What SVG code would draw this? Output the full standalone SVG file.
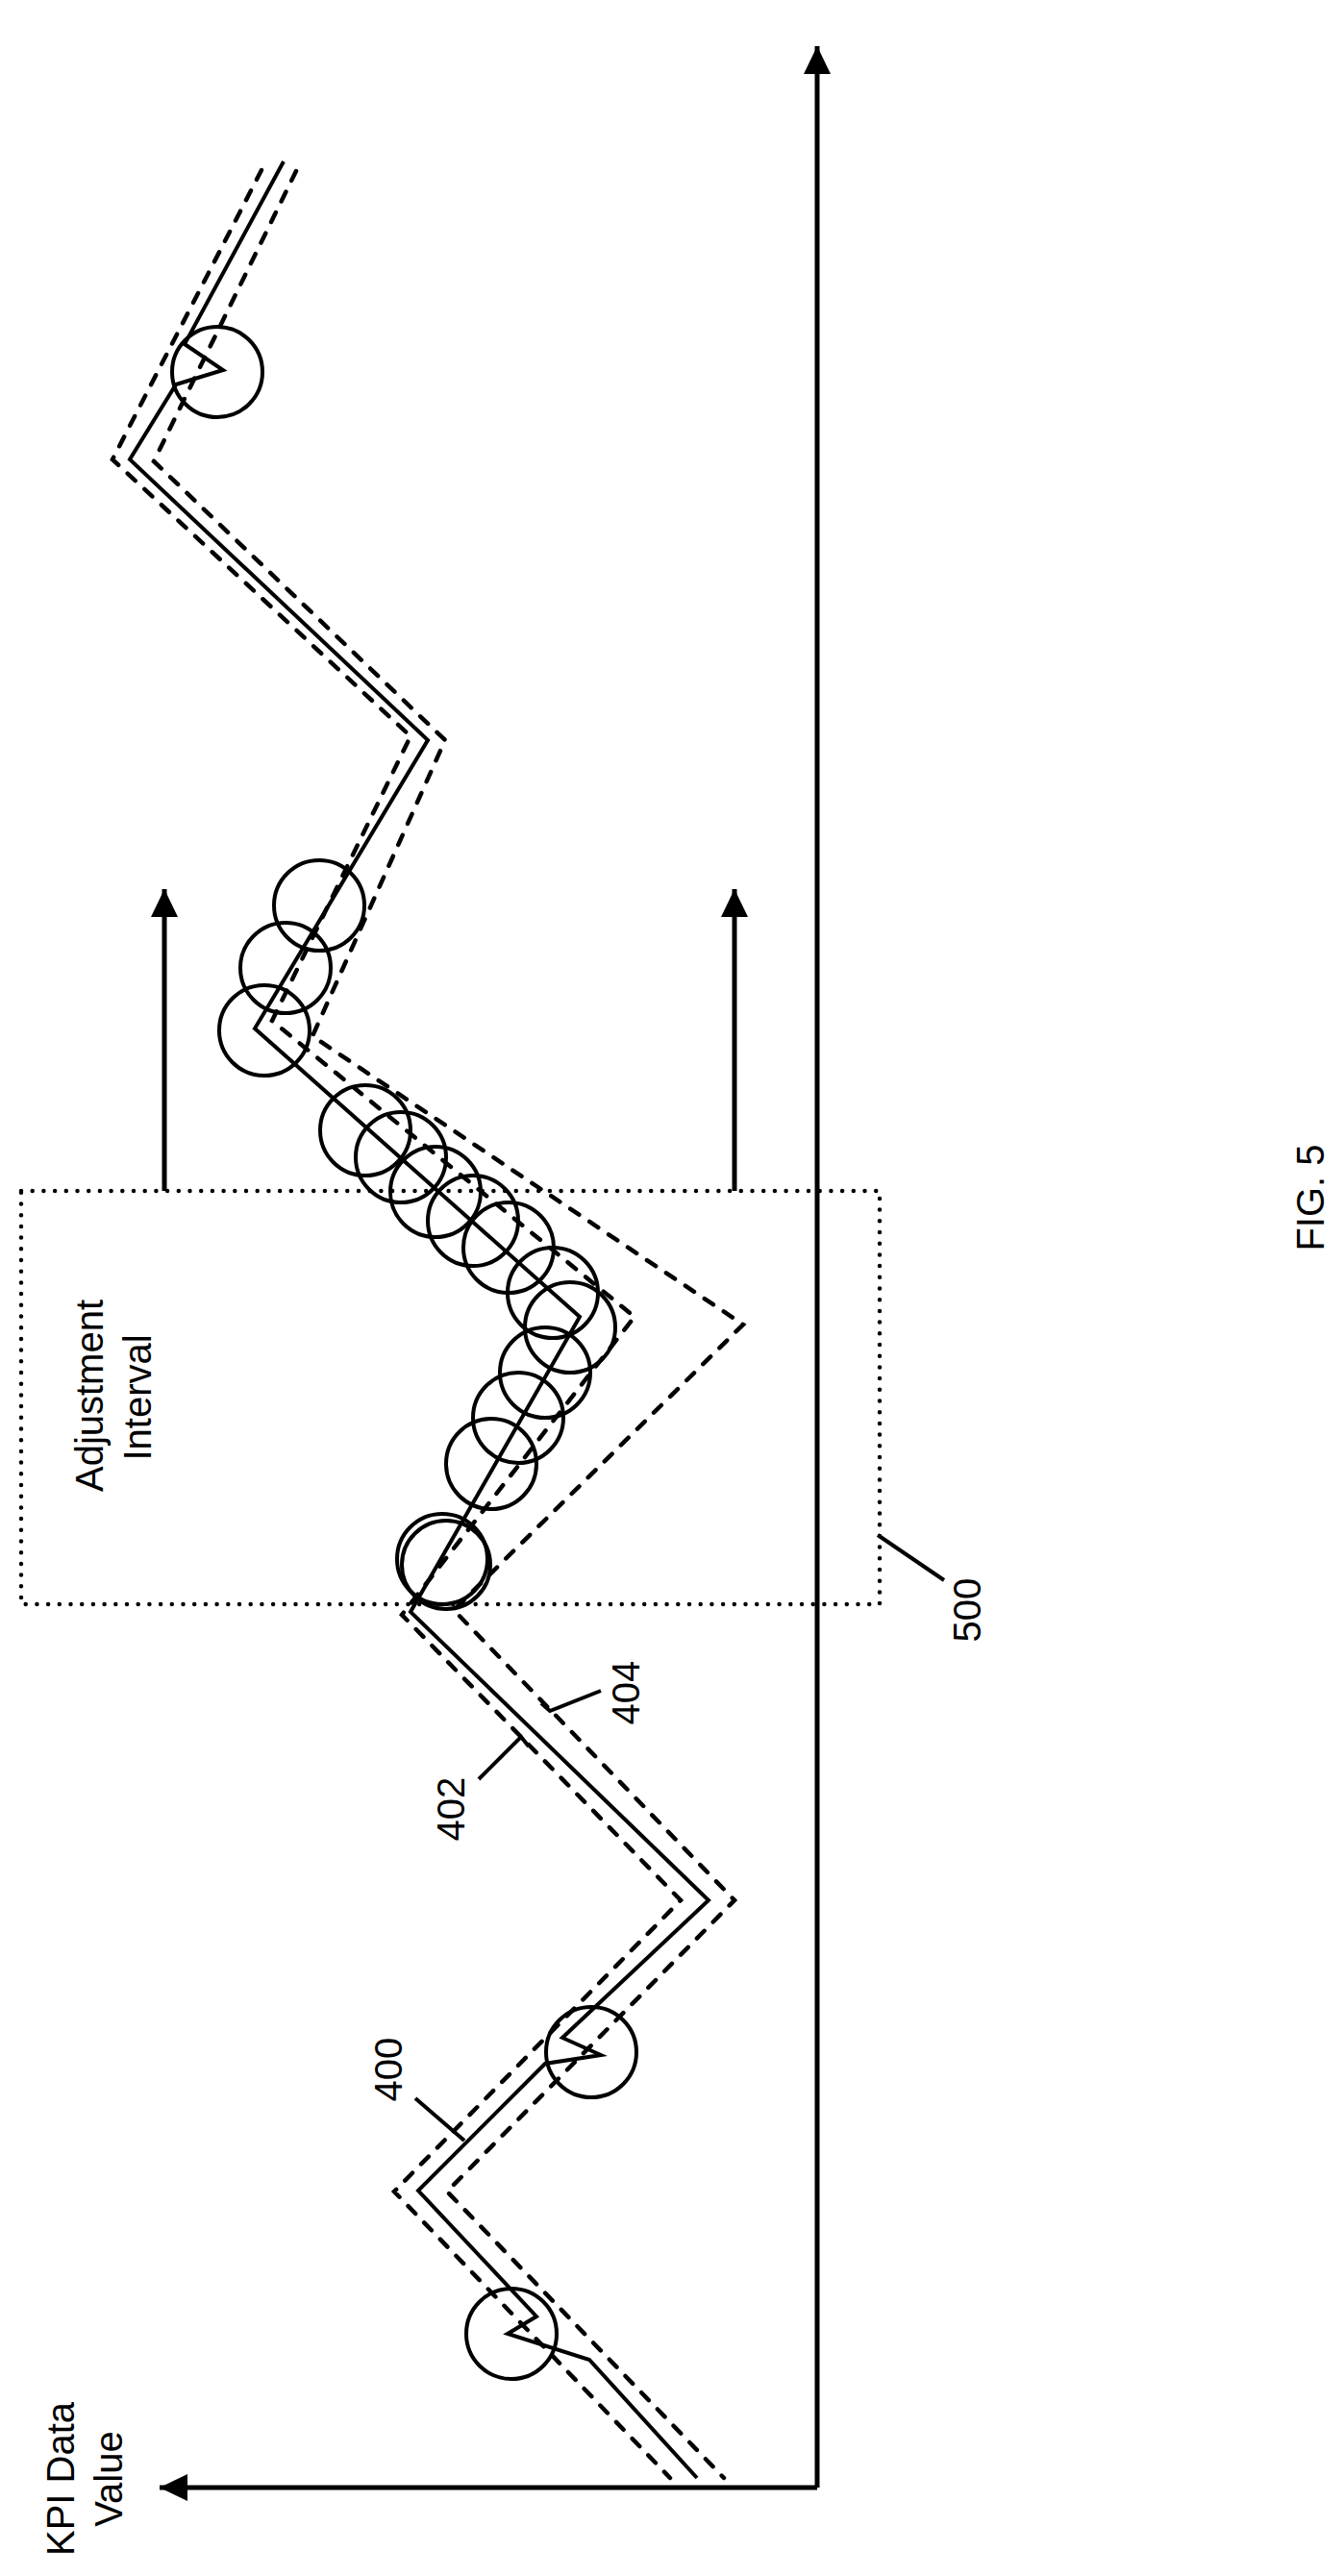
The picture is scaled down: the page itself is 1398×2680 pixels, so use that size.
<svg xmlns="http://www.w3.org/2000/svg" width="1398" height="2680" viewBox="0 0 1398 2680">
<style>
.ax{fill:none;stroke:#000;stroke-width:5}
.sol{fill:none;stroke:#000;stroke-width:4;stroke-linejoin:miter}
.dsh{fill:none;stroke:#000;stroke-width:4.5;stroke-dasharray:11 13;stroke-linecap:round}
.cir{fill:none;stroke:#000;stroke-width:4}
.box{fill:none;stroke:#000;stroke-width:4.5;stroke-dasharray:0 11.7;stroke-linecap:round}
.ld{fill:none;stroke:#000;stroke-width:4}
.t{font-family:"Liberation Sans",Arial,sans-serif;font-size:40px;fill:#000;text-anchor:middle}
</style>
<defs>
<marker id="ah" markerUnits="userSpaceOnUse" markerWidth="30" markerHeight="30" viewBox="0 0 30 30" refX="29" refY="15" orient="auto">
<path d="M0,1 L29,15 L0,29 Z" fill="#000"/>
</marker>
</defs>
<g id="axes">
<path class="ax" d="M850,2588 L850,48" marker-end="url(#ah)"/>
<path class="ax" d="M850,2588 L166,2588" marker-end="url(#ah)"/>
</g>
<g id="adjustment-box">
<rect class="box" x="22" y="1239" width="893" height="430"/>
<path class="ax" d="M171,1239 L171,925" marker-end="url(#ah)"/>
<path class="ax" d="M764,1239 L764,925" marker-end="url(#ah)"/>
<text class="t" transform="translate(107,1452) rotate(-90)" font-size="41">Adjustment</text>
<text class="t" transform="translate(157,1454) rotate(-90)" font-size="41">Interval</text>
</g>
<g id="connectors">
<path id="kpi-400" class="sol" d="M295,168 L192,358 L232,385 L183,400 L135,478 L445,770 L265,1070 L603,1370 L427,1677 L737,1977 L585,2120 L625,2138 L567,2147 L435,2279 L558,2410 L528,2428 L613,2455 L725,2578"/>
<path id="band-402" class="dsh" d="M272,177 L117,478 L427,766 L283,1062 L660,1370 L418,1680 L708,1977 L410,2280 L697,2578"/>
<path id="band-404" class="dsh" d="M308,178 L160,480 L463,770 L325,1078 L773,1378 L472,1675 L764,1977 L465,2280 L753,2578"/>
</g>
<g id="anomalies">
<circle class="cir" cx="226" cy="387" r="47"/>
<circle class="cir" cx="332" cy="942" r="47"/>
<circle class="cir" cx="297" cy="1007" r="47"/>
<circle class="cir" cx="275" cy="1072" r="47"/>
<circle class="cir" cx="380" cy="1176" r="47"/>
<circle class="cir" cx="417" cy="1204" r="47"/>
<circle class="cir" cx="453" cy="1240" r="47"/>
<circle class="cir" cx="492" cy="1270" r="47"/>
<circle class="cir" cx="529" cy="1298" r="47"/>
<circle class="cir" cx="575" cy="1345" r="47"/>
<circle class="cir" cx="593" cy="1381" r="47"/>
<circle class="cir" cx="567" cy="1428" r="47"/>
<circle class="cir" cx="539" cy="1475" r="47"/>
<circle class="cir" cx="511" cy="1523" r="47"/>
<circle class="cir" cx="460" cy="1622" r="47"/>
<circle class="cir" cx="464" cy="1628" r="46"/>
<circle class="cir" cx="615" cy="2135" r="47"/>
<circle class="cir" cx="532" cy="2428" r="47"/>
</g>
<g id="labels">
<text class="t" transform="translate(77,2579) rotate(-90)" font-size="41">KPI Data</text>
<text class="t" transform="translate(127,2579) rotate(-90)" font-size="41">Value</text>
<path class="ld" d="M432,2183 L483,2227"/>
<text class="t" transform="translate(418,2153) rotate(-90)">400</text>
<path class="ld" d="M498,1851 L542,1807 L550,1817"/>
<text class="t" transform="translate(483,1882) rotate(-90)">402</text>
<path class="ld" d="M625,1759 L572,1780 L563,1772"/>
<text class="t" transform="translate(665,1761) rotate(-90)">404</text>
<path class="ld" d="M913,1597 L982,1644"/>
<text class="t" transform="translate(1020,1675) rotate(-90)">500</text>
<text class="t" transform="translate(1377,1246) rotate(-90)" font-size="100">FIG. 5</text>
</g>
</svg>
